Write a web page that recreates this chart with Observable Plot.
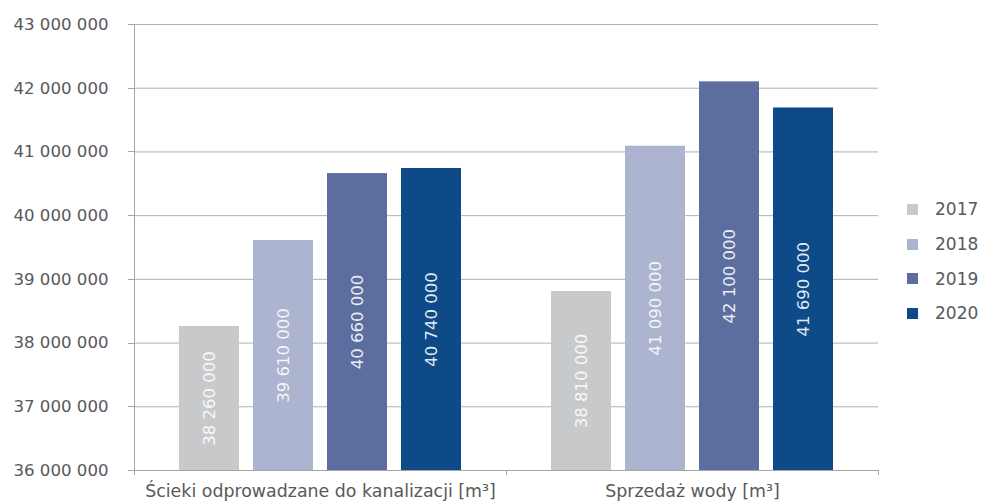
<!DOCTYPE html>
<html>
<head>
<meta charset="utf-8">
<script src="https://cdn.jsdelivr.net/npm/d3@7"></script>
<script src="https://cdn.jsdelivr.net/npm/@observablehq/plot@0.6"></script>
<style>
  html, body { margin: 0; padding: 0; background: #ffffff; }
  #wrap { position: relative; width: 982px; height: 502px; font-family: "DejaVu Sans", Verdana, sans-serif; }
  #legend { position: absolute; left: 907px; top: 192px; color: #595959; font-size: 17px; }
  .item { display: flex; align-items: center; height: 34.7px; }
  .sw { width: 11px; height: 11px; margin-right: 17px; }
</style>
</head>
<body>
<div id="wrap"><div id="legend"></div></div>
<script>
const categories = ["Ścieki odprowadzane do kanalizacji [m³]", "Sprzedaż wody [m³]"];
const years = ["2017", "2018", "2019", "2020"];
const sewage = [38260000, 39610000, 40660000, 40740000];
const waterSales = [38810000, 41090000, 42100000, 41690000];
const yTicks = [36000000, 37000000, 38000000, 39000000, 40000000, 41000000, 42000000, 43000000];
const colors = ["#C8C9CB", "#ACB4D0", "#5C6E9F", "#0D4A87"];

const yMin = yTicks[0], yMax = yTicks[yTicks.length - 1];
const series = [sewage, waterSales];
const data = [];
categories.forEach((c, i) => years.forEach((y, j) => data.push({category: c, year: y, value: series[i][j]})));

const fmt = d3.formatLocale({decimal: ",", thousands: " ", grouping: [3], currency: ["", ""]}).format(",d");

const W = 982, H = 502, mL = 134, mR = 104, mT = 24, mB = 32;

const plot = Plot.plot({
  width: W, height: H,
  marginLeft: mL, marginRight: mR, marginTop: mT, marginBottom: mB,
  style: {fontFamily: "'DejaVu Sans', Verdana, sans-serif", fontSize: "16.6px", color: "#595959", background: "white", overflow: "visible"},
  fx: {domain: categories, padding: 0, label: null, tickSize: 0, tickPadding: 14},
  x: {domain: years, paddingInner: 0.19, paddingOuter: 0.6, axis: null},
  y: {domain: [yMin, yMax], ticks: yTicks, tickFormat: fmt, label: null, tickSize: 0, tickPadding: 26},
  color: {domain: years, range: colors},
  marks: [
    Plot.ruleY(yTicks.slice(1), {stroke: "#b0b0b0", strokeWidth: 1}),
    Plot.barY(data, {fx: "category", x: "year", y1: yMin, y2: "value", fill: "year"}),
    Plot.ruleY([yMin], {stroke: "#a6a6a6", strokeWidth: 1}),
    Plot.text(data, {fx: "category", x: "year", y: d => (d.value + yMin) / 2, text: d => fmt(d.value), rotate: -90, fill: "white", fillOpacity: 0.9, fontSize: 16.5})
  ]
});

document.getElementById("wrap").prepend(plot);

// x category labels slightly wider, as in the reference
d3.select(plot).selectAll("[aria-label='fx-axis'] text, [aria-label='fx-axis tick label'] text").style("font-size", "17.4px");

// axis lines and tick marks of the frame
const svg = d3.select(plot);
const ys = plot.scale("y");
const left = mL, right = W - mR, bottom = H - mB;
const g = svg.append("g").attr("stroke", "#a6a6a6").attr("stroke-width", 1).attr("shape-rendering", "crispEdges");
g.append("line").attr("x1", left + 0.5).attr("x2", left + 0.5).attr("y1", mT).attr("y2", bottom);
yTicks.forEach(t => {
  const y = ys.apply(t);
  g.append("line").attr("x1", left - 6).attr("x2", left).attr("y1", y + 0.5).attr("y2", y + 0.5);
});
const nCat = categories.length;
for (let i = 0; i <= nCat; i++) {
  const x = left + (right - left) * i / nCat;
  g.append("line").attr("x1", x + 0.5).attr("x2", x + 0.5).attr("y1", bottom).attr("y2", bottom + 5);
}

// legend
const leg = d3.select("#legend");
years.forEach((y, i) => {
  const it = leg.append("div").attr("class", "item");
  it.append("div").attr("class", "sw").style("background", colors[i]);
  it.append("span").text(y);
});
</script>
</body>
</html>
